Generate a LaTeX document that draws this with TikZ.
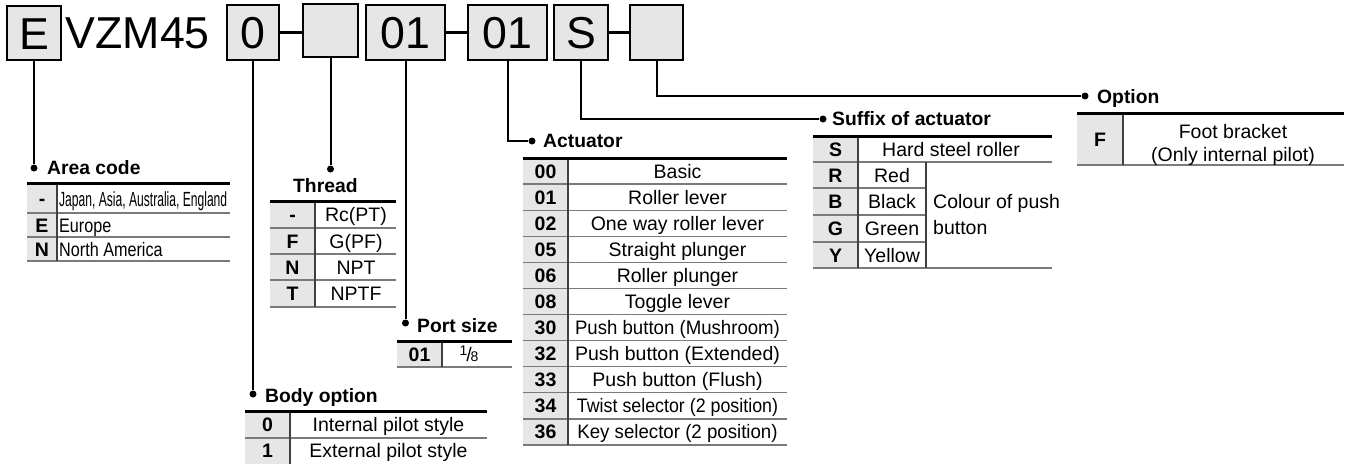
\documentclass[tikz,border=0pt]{standalone}
\usepackage{fontspec}
\setmainfont{Liberation Sans}
\usepackage{graphicx}
\definecolor{boxgray}{HTML}{E6E6E6}
\definecolor{rulegray}{HTML}{7A7A7A}
\definecolor{coldark}{HTML}{404040}
\newcommand{\bigf}{\fontsize{44.7}{50}\selectfont}
\newcommand{\headf}{\fontsize{19.3}{22}\selectfont\bfseries}
\newcommand{\cellf}{\fontsize{19.5}{22}\selectfont}
\newcommand{\codef}{\fontsize{19.5}{22}\selectfont\bfseries}
\begin{document}
\begin{tikzpicture}[x=1pt,y=-1pt,
  topbox/.style={draw=black, line width=2pt, fill=boxgray, inner sep=0pt, font=\bigf, text height=32pt, text depth=0pt},
  lead/.style={line width=2pt},
  joint/.style={line width=3.5pt},
  dotn/.style={circle, fill=black, inner sep=0pt, minimum size=7pt},
  head/.style={anchor=base west, inner sep=0pt, font=\headf},
  toprule/.style={line width=3pt},
  rowrule/.style={line width=1.2pt, draw=rulegray},
  colrule/.style={line width=1.3pt, draw=coldark},
  code/.style={font=\codef, inner sep=0pt, text height=14pt, text depth=0pt},
  cell/.style={font=\cellf, inner sep=0pt, text height=14pt, text depth=0pt},
]
\useasboundingbox (0,0) rectangle (1347,464);

% ---------- top row ----------
\node[topbox, minimum width=54pt, minimum height=54pt] (bE) at (34,33) {E};
\node[anchor=base west, inner sep=0pt, font=\bigf] (model) at (65.5,48) {VZM45};
\node[topbox, minimum width=52pt, minimum height=55pt] (bBody) at (253,32.5) {0};
\node[topbox, minimum width=55pt, minimum height=53pt] (bThread) at (330.5,30.5) {};
\node[topbox, minimum width=79pt, minimum height=55pt] (bPort) at (405.5,32.5) {01};
\node[topbox, minimum width=79pt, minimum height=55pt] (bAct) at (507.5,32.5) {01};
\node[topbox, minimum width=54pt, minimum height=55pt] (bSuf) at (581,32.5) {S};
\node[topbox, minimum width=53pt, minimum height=55pt] (bOpt) at (656.5,32.5) {};

\draw[joint] (bBody.east) -- (bBody.east -| bThread.west);
\draw[joint] (bPort.east) -- (bAct.west);
\draw[joint] (bSuf.east) -- (bOpt.west);

% ---------- dots and leads ----------
\node[dotn] (dArea) at (34,168) {};
\node[dotn] (dThread) at (330.5,169) {};
\node[dotn] (dPort) at (405.5,323) {};
\node[dotn] (dBody) at (253,394) {};
\node[dotn] (dAct) at (532,141) {};
\node[dotn] (dSuf) at (823,119) {};
\node[dotn] (dOpt) at (1085,96) {};

\draw[lead] (bE) -- (dArea);
\draw[lead] (bThread) -- (dThread);
\draw[lead] (bPort) -- (dPort);
\draw[lead] (bBody) -- (dBody);
\draw[lead] (bAct) |- (dAct);
\draw[lead] (bSuf) |- (dSuf);
\draw[lead] (bOpt) |- (dOpt);

% ---------- headings ----------
\node[head] (hArea) at (47,174) {Area code};
\node[head] (hThread) at (293,192) {Thread};
\node[head] (hPort) at (417,332) {Port size};
\node[head] (hBody) at (265,402) {Body option};
\node[head] (hAct) at (543,147) {Actuator};
\node[head] (hSuf) at (832,125) {Suffix of actuator};
\node[head] (hOpt) at (1097,103) {Option};

% ---------- Area code table ----------
\fill[boxgray] (27,183) rectangle (57,261);
\draw[rowrule] (27,213) -- (230,213) (27,237) -- (230,237) (27,261) -- (230,261);
\draw[colrule] (57,183) -- (57,261);
\draw[toprule] (27,183) -- (230,183);
\node[code] (ac1) at (42,198) {-};
\node[code] (ac2) at (42,225) {E};
\node[code] (ac3) at (42,249) {N};
\node[cell, anchor=west] (ad1) at (59,199) {\scalebox{0.62}[1.05]{Japan, Asia, Australia, England}};
\node[cell, anchor=west] (ad2) at (59,225) {\scalebox{0.83}[1]{Europe}};
\node[cell, anchor=west] (ad3) at (59,249) {\scalebox{0.83}[1]{North America}};

% ---------- Thread table ----------
\fill[boxgray] (270,201) rectangle (315,307);
\draw[rowrule] (270,228) -- (396,228) (270,254) -- (396,254) (270,280) -- (396,280) (270,307) -- (396,307);
\draw[colrule] (315,201) -- (315,307);
\draw[toprule] (270,201) -- (396,201);
\node[code] (tc1) at (292.5,214.5) {-};
\node[code] (tc2) at (292.5,241) {F};
\node[code] (tc3) at (292.5,267) {N};
\node[code] (tc4) at (292.5,293.5) {T};
\node[cell] (td1) at (356,214.5) {Rc(PT)};
\node[cell] (td2) at (356,241) {G(PF)};
\node[cell] (td3) at (356,267) {NPT};
\node[cell] (td4) at (356,293.5) {NPTF};

% ---------- Port size table ----------
\fill[boxgray] (397,341) rectangle (442,367);
\draw[rowrule] (397,367) -- (512,367);
\draw[colrule] (442,341) -- (442,367);
\draw[toprule] (397,341) -- (512,341);
\node[code] (pc1) at (419.5,354) {01};
\node[cell] (pd1) at (469,354) {\raisebox{5.5pt}{\fontsize{14}{14}\selectfont 1}\kern-1pt/\kern-1pt{\fontsize{14}{14}\selectfont 8}};

% ---------- Body option table ----------
\fill[boxgray] (245,411) rectangle (290,464);
\draw[rowrule] (245,438) -- (487,438);
\draw[colrule] (290,411) -- (290,464);
\draw[toprule] (245,411) -- (487,411);
\node[code] (oc1) at (267.5,424.5) {0};
\node[code] (oc2) at (267.5,450.5) {1};
\node[cell] (od1) at (388.5,424.5) {Internal pilot style};
\node[cell] (od2) at (388.5,450.5) {External pilot style};

% ---------- Actuator table ----------
\fill[boxgray] (523,158) rectangle (568,445);
\foreach \k in {1,...,11}{
  \draw[rowrule] (523,158+26.09*\k) -- (787,158+26.09*\k);
}
\draw[colrule] (568,158) -- (568,445);
\draw[toprule] (523,158) -- (787,158);
\foreach \c/\d [count=\i from 0] in {00/Basic, 01/Roller lever, 02/One way roller lever, 05/Straight plunger, 06/Roller plunger, 08/Toggle lever, 30/{\scalebox{0.955}[1]{Push button (Mushroom)}}, 32/Push button (Extended), 33/Push button (Flush), 34/{\scalebox{0.914}[1]{Twist selector (2 position)}}, 36/{\scalebox{0.957}[1]{Key selector (2 position)}}}{
  \node[code] (actc\i) at (545.5,171.05+26.09*\i) {\c};
  \node[cell] (actd\i) at (677.5,171.05+26.09*\i) {\d};
}

% ---------- Suffix of actuator table ----------
\fill[boxgray] (813,136) rectangle (858,268);
\draw[rowrule] (813,162) -- (1052,162) (813,188) -- (926,188) (813,215) -- (926,215) (813,242) -- (926,242) (813,268) -- (1052,268);
\draw[colrule] (858,136) -- (858,268);
\draw[colrule] (926,162) -- (926,268);
\draw[toprule] (813,136) -- (1052,136);
\node[code] (sc1) at (835.5,149) {S};
\node[code] (sc2) at (835.5,175) {R};
\node[code] (sc3) at (835.5,201.5) {B};
\node[code] (sc4) at (835.5,228.5) {G};
\node[code] (sc5) at (835.5,255) {Y};
\node[cell] (sd1) at (951,149) {Hard steel roller};
\node[cell] (sd2) at (892,175) {Red};
\node[cell] (sd3) at (892,201.5) {Black};
\node[cell] (sd4) at (892,228.5) {Green};
\node[cell] (sd5) at (892,255) {Yellow};
\node[inner sep=0pt, anchor=west, align=left, font=\fontsize{19.5}{26}\selectfont] (scol) at (933,214.75) {Colour of push\\button};

% ---------- Option table ----------
\fill[boxgray] (1077,113) rectangle (1123,165);
\draw[rowrule] (1077,165) -- (1344,165);
\draw[colrule] (1123,113) -- (1123,165);
\draw[toprule] (1077,113) -- (1344,113);
\node[code] (fc1) at (1100,139) {F};
\node[inner sep=0pt, align=center, font=\fontsize{19.5}{23}\selectfont] (fd1) at (1233,145.3) {Foot bracket\\(Only internal pilot)};
\end{tikzpicture}
\end{document}
